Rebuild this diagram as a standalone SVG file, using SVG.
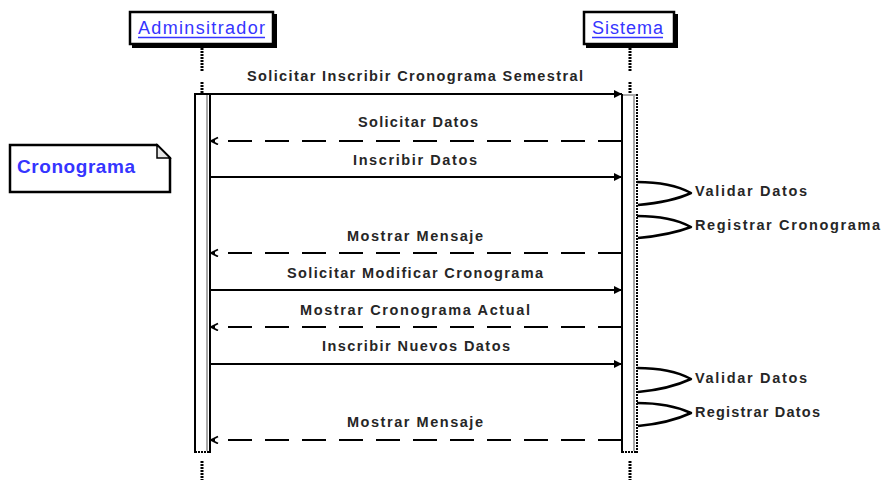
<svg xmlns="http://www.w3.org/2000/svg" width="882" height="480" viewBox="0 0 882 480">
  <defs>
    <marker id="head-solid" markerUnits="userSpaceOnUse" markerWidth="10" markerHeight="10" refX="8" refY="4" orient="auto">
      <path d="M0,0 L8,4 L0,8 Z" fill="#000"/>
    </marker>
    <marker id="head-open" markerUnits="userSpaceOnUse" markerWidth="10" markerHeight="10" refX="8" refY="4" orient="auto">
      <path d="M1,0.5 L8,4 L1,7.5" fill="none" stroke="#000" stroke-width="1.8"/>
    </marker>
    <style>
      .hdr-box { fill: #fff; stroke: #000; stroke-width: 2.5; }
      .hdr-shadow { fill: #000; }
      .hdr-text { font-family: "Liberation Sans", Arial, sans-serif; font-size: 18px; fill: #3535ff; }
      .uline { stroke: #3535ff; stroke-width: 1.6; }
      .lifeline { stroke: #000; stroke-width: 3; stroke-dasharray: 2 1; fill: none; }
      .act { fill: #fff; stroke: none; }
      .edge { stroke: #000; stroke-width: 2; }
      .edge-gray { stroke: #a8a8a8; stroke-width: 2; }
      .edge-dot { stroke: #000; stroke-width: 2; stroke-dasharray: 2 1; }
      .msg { stroke: #000; stroke-width: 2; fill: none; }
      .msg-sync { marker-end: url(#head-solid); }
      .msg-ret { stroke-dasharray: 24 13; marker-end: url(#head-open); }
      .self { stroke: #000; stroke-width: 2.5; fill: none; stroke-linejoin: round; }
      .lbl { font-family: "Liberation Sans", Arial, sans-serif; font-size: 14.5px; font-weight: bold; fill: #262626; }
      .note-box { fill: #fff; stroke: #000; stroke-width: 2.5; }
      .note-fold { fill: #e6e6e6; stroke: #000; stroke-width: 1.5; }
      .note-text { font-family: "Liberation Sans", Arial, sans-serif; font-size: 19px; font-weight: bold; fill: #3535ff; }
    </style>
  </defs>

  <rect width="882" height="480" fill="#fff"/>

  <!-- Participant: Adminsitrador -->
  <g id="admin">
    <rect class="hdr-shadow" x="132" y="14" width="145" height="34"/>
    <rect class="hdr-box" x="130" y="12" width="143" height="32"/>
    <text class="hdr-text" x="138" y="33.5" textLength="127" lengthAdjust="spacing">Adminsitrador</text>
    <line class="uline" x1="138" y1="37.5" x2="265" y2="37.5"/>
    <line class="lifeline" x1="202" y1="48" x2="202" y2="72"/>
    <line class="lifeline" x1="202" y1="82" x2="202" y2="94"/>
    <line class="lifeline" x1="202" y1="461" x2="202" y2="480"/>
    <rect class="act" x="195" y="94" width="15" height="358"/>
    <line class="edge-gray" x1="207" y1="95" x2="207" y2="451"/>
    <line class="edge" x1="195" y1="93" x2="195" y2="453"/>
    <line class="edge" x1="210" y1="93" x2="210" y2="453"/>
    <line class="edge" x1="195" y1="94" x2="210" y2="94"/>
    <line class="edge-dot" x1="195" y1="452" x2="210" y2="452"/>
  </g>

  <!-- Participant: Sistema -->
  <g id="sistema">
    <rect class="hdr-shadow" x="586" y="14" width="92" height="34"/>
    <rect class="hdr-box" x="584" y="12" width="90" height="32"/>
    <text class="hdr-text" x="592" y="33.5" textLength="71" lengthAdjust="spacing">Sistema</text>
    <line class="uline" x1="592" y1="37.5" x2="663" y2="37.5"/>
    <line class="lifeline" x1="630" y1="48" x2="630" y2="72"/>
    <line class="lifeline" x1="630" y1="82" x2="630" y2="94"/>
    <line class="lifeline" x1="630" y1="461" x2="630" y2="480"/>
    <rect class="act" x="622" y="94" width="15" height="358"/>
    <line class="edge-gray" x1="634" y1="95" x2="634" y2="451"/>
    <line class="edge-gray" x1="622" y1="95" x2="636" y2="95"/>
    <line class="edge" x1="622" y1="94" x2="622" y2="453"/>
    <line class="edge-dot" x1="637" y1="94" x2="637" y2="453"/>
    <line class="edge-dot" x1="622" y1="452" x2="637" y2="452"/>
  </g>

  <!-- Note: Cronograma -->
  <g id="nota-cronograma">
    <path class="note-box" d="M10,145 L157,145 L170,158 L170,192 L10,192 Z"/>
    <path class="note-fold" d="M157,145 L157,158 L170,158 Z"/>
    <text class="note-text" x="17" y="173" textLength="118" lengthAdjust="spacing">Cronograma</text>
  </g>

  <!-- Messages -->
  <g id="connectors">
    <line class="msg msg-sync" x1="210" y1="94" x2="622" y2="94"/>
    <line class="msg msg-ret" x1="622" y1="141" x2="211" y2="141"/>
    <line class="msg msg-sync" x1="210" y1="177" x2="622" y2="177"/>
    <path class="self" d="M637,182 C660,182 678,186 691,193 C678,199 660,203 638,205"/>
    <path class="self" d="M637,216 C660,216 678,220 691,227 C678,232 660,236 638,238"/>
    <line class="msg msg-ret" x1="622" y1="253" x2="211" y2="253"/>
    <line class="msg msg-sync" x1="210" y1="290" x2="622" y2="290"/>
    <line class="msg msg-ret" x1="622" y1="327" x2="211" y2="327"/>
    <line class="msg msg-sync" x1="210" y1="364" x2="622" y2="364"/>
    <path class="self" d="M637,368 C660,368 678,372 691,379 C678,385 660,390 638,392"/>
    <path class="self" d="M637,403 C660,403 678,407 691,413 C678,419 660,424 638,426"/>
    <line class="msg msg-ret" x1="622" y1="440" x2="211" y2="440"/>
  </g>

  <!-- Message labels -->
  <g id="labels">
    <text class="lbl" x="247" y="81" textLength="336" lengthAdjust="spacing">Solicitar Inscribir Cronograma Semestral</text>
    <text class="lbl" x="358" y="127" textLength="120" lengthAdjust="spacing">Solicitar Datos</text>
    <text class="lbl" x="353" y="165" textLength="124" lengthAdjust="spacing">Inscribir Datos</text>
    <text class="lbl" x="695" y="196" textLength="112" lengthAdjust="spacing">Validar Datos</text>
    <text class="lbl" x="695" y="230" textLength="185" lengthAdjust="spacing">Registrar Cronograma</text>
    <text class="lbl" x="347" y="241" textLength="136" lengthAdjust="spacing">Mostrar Mensaje</text>
    <text class="lbl" x="287" y="278" textLength="256" lengthAdjust="spacing">Solicitar Modificar Cronograma</text>
    <text class="lbl" x="300" y="315" textLength="230" lengthAdjust="spacing">Mostrar Cronograma Actual</text>
    <text class="lbl" x="322" y="351" textLength="188" lengthAdjust="spacing">Inscribir Nuevos Datos</text>
    <text class="lbl" x="695" y="383" textLength="112" lengthAdjust="spacing">Validar Datos</text>
    <text class="lbl" x="695" y="417" textLength="125" lengthAdjust="spacing">Registrar Datos</text>
    <text class="lbl" x="347" y="427" textLength="136" lengthAdjust="spacing">Mostrar Mensaje</text>
  </g>
</svg>
